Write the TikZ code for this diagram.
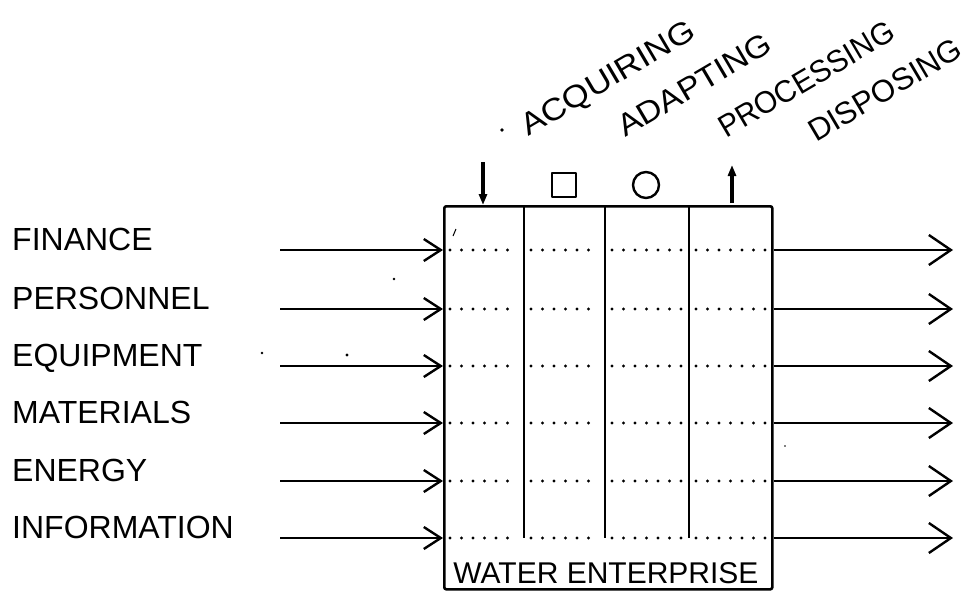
\documentclass[tikz,border=0pt]{standalone}
\usepackage{fontspec}
\setmainfont{Liberation Sans}
\usetikzlibrary{arrows.meta}
\begin{document}
\begin{tikzpicture}[x=1pt,y=-1pt,line join=round,
  lab/.style={anchor=base west,inner sep=0pt,font=\fontsize{32}{32}\selectfont},
  act/.style={anchor=base west,inner sep=0pt,rotate=30.5,font=\fontsize{31}{31}\selectfont},
  frame/.style={line width=2.6pt},
  dots/.style={line width=3.3pt,line cap=round,dash pattern=on 0pt off 11.5pt},
  flowin/.style={line width=2.2pt,-{Straight Barb[length=17pt,width=22pt,line width=2.4pt]}},
  flowout/.style={line width=2.2pt,-{Straight Barb[length=22pt,width=30pt,line width=2.4pt]}},
  symarrow/.style={line width=3.6pt,-{Triangle[length=11pt,width=8pt]}},
  speck/.style={fill=black}]
\useasboundingbox (0,0) rectangle (972,590);

% enterprise box with its four activity columns
\node[draw,frame,rounded corners=2pt,minimum width=328pt,minimum height=383pt,
      inner sep=0pt,anchor=north west] (ent) at (443,205) {};
\foreach \x in {524,605,689}
  \draw[frame] (\x,205) -- (\x,538);

% resource rows: label, incoming arrow, dotted track, outgoing arrow
\foreach \n/\txt/\y in {fin/FINANCE/250,per/PERSONNEL/309,equ/EQUIPMENT/366,
                        mat/MATERIALS/423,ene/ENERGY/481,inf/INFORMATION/538}{
  \node[lab] (\n) at (12,\y) {\txt};
  \coordinate (\n-s) at (280,\y);
  \coordinate (\n-t) at (953,\y);
  \draw[flowin] (\n-s) -- (\n-s -| ent.west);
  \draw[flowout] (\n-s -| ent.east) -- (\n-t);
  \foreach \a/\b in {450/518,531/599,612/683,696/766}
    \draw[dots] (\a,\y) -- (\b,\y);
}

\node[anchor=base,inner sep=0pt,font=\fontsize{30}{30}\selectfont] (wat) at (606,583) {WATER ENTERPRISE};

% activity symbols above the columns
\coordinate (acq-a) at (483,162);
\coordinate (acq-b) at (483,205);
\draw[symarrow] (acq-a) -- (acq-b);
\node[draw,line width=2.4pt,minimum size=24pt,inner sep=0pt] (sq) at (564,185) {};
\node[draw,circle,line width=2.4pt,minimum size=26pt,inner sep=0pt] (ci) at (646,185) {};
\coordinate (dis-a) at (732,203);
\coordinate (dis-b) at (732,165);
\draw[symarrow] (dis-a) -- (dis-b);

% activity names
\node[act] (acq) at (528,137) {\scalebox{1.12}[1]{ACQUIRING}};
\node[act] (ada) at (625,138) {\scalebox{1.09}[1]{ADAPTING}};
\node[act] (pro) at (726,139) {\scalebox{0.96}[1]{PROCESSING}};
\node[act] (dis) at (816,143) {DISPOSING};

% small marks
\fill[speck] (502,130) circle (1.8pt);
\fill[speck] (394,279) circle (1.4pt);
\fill[speck] (262,353) circle (1.4pt);
\fill[speck] (347,355) circle (1.6pt);
\fill[speck] (785,446) circle (0.8pt);
\draw[line width=1pt] (453,236) -- (456,229);
\end{tikzpicture}
\end{document}
